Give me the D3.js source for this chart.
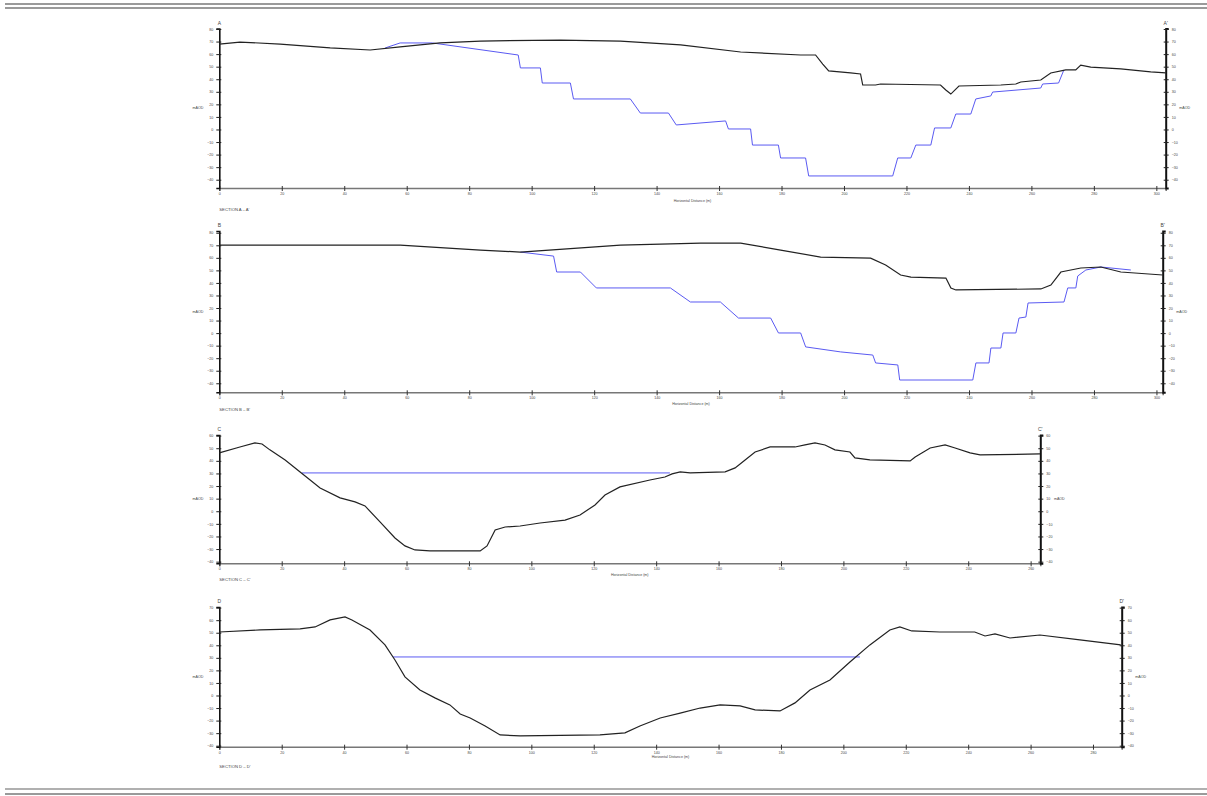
<!DOCTYPE html>
<html>
<head>
<meta charset="utf-8">
<script src="https://cdn.jsdelivr.net/npm/d3@7"></script>
<style>
  body { margin: 0; background: #fff; }
  svg { display: block; font-family: "Liberation Sans", Arial, sans-serif; }
  .tick text { font-size: 3.6px; fill: #444; }
  .lbl { font-size: 3.6px; fill: #444; }
</style>
</head>
<body>
<div class="chart"></div>
<script>
// DATA ------------------------------------
// distance (m) / elevation (mAOD) pairs read off the sections
const groundA = [[0,68],[6.6,69.6],[19.5,68],[35.5,64.9],[48.3,63.3],[57.9,65.7],[70.7,68.9],[83.6,70.4],[109.2,71.2],[128.4,70.4],[147.7,67.3],[166.9,61.7],[186.1,59.3],[190.9,59.3],[193.2,52.1],[195.1,46.6],[202.1,45],[205.3,44.2],[206,35.4],[210.1,35.4],[211.7,36.2],[230.9,35.4],[232.6,31.4],[234.2,28.2],[236.8,34.6],[250.2,35.4],[255,36.2],[256.6,37.8],[263,39.4],[266.2,45],[271,47.4],[274.2,47.4],[275.8,51.3],[279,49.7],[288.6,48.2],[298.2,45.8],[303,45]];
const designA = [[53.1,64.9],[57.9,68.9],[68.2,68.9],[95.7,59.3],[96.4,49],[102.8,49],[103.4,37],[112.4,37],[113.4,24.3],[131.6,24.3],[134.8,13.1],[143.8,13.1],[146.3,3.6],[162.1,6.8],[163,0.4],[170.1,0.4],[170.7,-12.4],[179,-12.4],[179.7,-22.7],[187.7,-22.7],[188.7,-37],[215.6,-37],[217.2,-22.7],[221.4,-22.7],[223,-12.4],[227.8,-12.4],[229,1.2],[234.2,1.2],[235.8,12.3],[240.6,12.3],[242.2,24.3],[247,26.7],[247.6,29.8],[263,33],[263.6,36.2],[268.7,37],[270.4,47.4]];

const groundB = [[0,70.2],[57.9,70.2],[83.6,66.2],[96.4,64.6],[128.4,70.2],[154.1,71.8],[166.9,71.8],[179.7,66.2],[192.5,60.6],[208.5,59.8],[213.3,54.3],[218.1,46.3],[221.4,44.7],[232.6,43.9],[234.2,36],[235.8,34.4],[263,35.2],[266.2,38.3],[269.4,48.7],[275.8,51.9],[282.2,52.7],[288.6,48.7],[302,46.3]];
const designB = [[96.4,64.6],[107,61.4],[108,48.7],[115.6,48.7],[120.7,36],[144.4,36],[150.8,24.8],[160.4,24.8],[166.2,12],[176.5,12],[179,0.1],[186.1,0.1],[187.7,-11],[198.9,-15],[209.2,-17.5],[210.1,-23.8],[217.2,-25.4],[217.8,-37.4],[241.2,-37.4],[242.2,-23.8],[246.4,-23.8],[247,-11.9],[250.2,-11.9],[250.9,0.1],[255,0.1],[256,12],[258.2,12.8],[258.9,24],[270.4,24.8],[271.6,36],[274.2,36],[274.8,45.5],[277.4,50.3],[282.2,52.7],[291.8,50.3]];

const groundC = [[0,46.3],[6.6,51],[11.4,54.2],[13.7,53.4],[16.2,48.7],[21.1,40.7],[25.9,31.2],[32.3,18.5],[38.7,10.6],[43.5,7.4],[46.7,4.2],[51.5,-8.5],[56.3,-21.2],[59.5,-27.5],[62.7,-30.7],[67.5,-31.5],[83.6,-31.5],[85.8,-27.5],[88.4,-14.8],[91.6,-12.5],[96.4,-11.7],[102.8,-9.3],[110.8,-7],[115.6,-3],[120.4,5],[123.6,12.9],[128.4,19.3],[138,24.8],[142.8,27.2],[145.1,29.6],[147.7,31.2],[150.9,30.4],[162.1,31.2],[165.3,34.4],[168.5,40.7],[171.7,47],[176.5,51],[184.5,51],[187.7,52.6],[190.9,54.2],[194.1,52.6],[197.3,48.7],[202.1,47],[203.7,42.3],[208.5,40.7],[221.4,39.9],[223,43.1],[227.8,50.2],[232.6,52.6],[235.8,50.2],[240.6,46.3],[243.8,44.7],[263,45.5]];
const designC = [[26.5,30.4],[144.4,30.4]];

const groundD = [[0,50.6],[13.1,52.2],[25.9,53],[30.7,54.6],[35.5,60.2],[40.3,62.6],[42.5,60.2],[48.3,52.2],[53.1,40.3],[56.3,28.3],[59.5,14.8],[64.3,4.4],[69.1,-1.9],[73.9,-7.5],[77.2,-14.7],[80.4,-17.9],[85.2,-24.3],[90,-31.4],[96.4,-32.2],[122,-31.4],[130,-29.8],[134.8,-24.3],[141.3,-17.9],[147.7,-14],[154.1,-10],[160.5,-7.5],[166.9,-8.3],[171.7,-11.5],[179.7,-12.3],[184.5,-5.9],[189.3,4.4],[195.7,12.4],[202.1,26.7],[208.5,40.3],[214.9,52.2],[218.1,54.6],[221.9,51.4],[230.9,50.6],[242.1,50.6],[245.4,47.4],[248.6,49],[253.4,45.8],[263,48.2],[275.8,44.3],[288.9,40.3]];
const designD = [[55.7,30.7],[205.3,30.7]];

const yTicksA = d3.range(80, -41, -10);
const yTicksB = d3.range(80, -41, -10);
const yTicksC = d3.range(60, -41, -10);
const yTicksD = d3.range(70, -41, -10);
const xTicksA = d3.range(0, 301, 20);
const xTicksB = d3.range(0, 301, 20);
const xTicksC = d3.range(0, 261, 20);
const xTicksD = d3.range(0, 281, 20);

// CHART INIT ------------------------------
const W = 1207, H = 796;
const svg = d3.select(".chart")
    .append("svg")
    .attr("width", W)
    .attr("height", H);

// page frame lines
[[4, "#9a9a9a"], [8, "#9a9a9a"], [789, "#b0b0b0"], [794, "#9a9a9a"]].forEach(([y, c]) => {
  svg.append("line")
    .attr("x1", 5).attr("x2", W)
    .attr("y1", y).attr("y2", y)
    .attr("stroke", c).attr("stroke-width", 2);
});

const sections = [
  {name: "A", top: 28.5, bottom: 188, right: 1165.7, xMax: 303, yDom: [-46.6, 80.4],
   yTicks: yTicksA, xTicks: xTicksA, ground: groundA, design: designA, secY: 211, hdY: 202},
  {name: "B", top: 231, bottom: 392.3, right: 1162.7, xMax: 302, yDom: [-47.2, 81.4],
   yTicks: yTicksB, xTicks: xTicksB, ground: groundB, design: designB, secY: 411, hdY: 405},
  {name: "C", top: 435, bottom: 563.3, right: 1040.3, xMax: 263.1, yDom: [-41.3, 60.5],
   yTicks: yTicksC, xTicks: xTicksC, ground: groundC, design: designC, secY: 581, hdY: 576},
  {name: "D", top: 607, bottom: 746.7, right: 1121.7, xMax: 289.2, yDom: [-40.8, 70.5],
   yTicks: yTicksD, xTicks: xTicksD, ground: groundD, design: designD, secY: 768, hdY: 758}
];

const left = 219.3;

sections.forEach(s => drawSection(s));

function drawSection(s) {
  const g = svg.append("g");
  const xScale = d3.scaleLinear().domain([0, s.xMax]).range([left, s.right]);
  const yScale = d3.scaleLinear().domain(s.yDom).range([s.bottom, s.top]);

  const line = d3.line()
      .x(d => xScale(d[0]))
      .y(d => yScale(d[1]));

  // x axis
  const xAxis = d3.axisBottom(xScale).tickValues(s.xTicks).tickSize(3).tickPadding(1.5);
  g.append("g")
    .attr("class", "axis x-axis")
    .attr("transform", `translate(0, ${s.bottom})`)
    .call(xAxis)
    .call(a => a.select(".domain").attr("stroke", "#777").attr("stroke-width", 1.6))
    .call(a => a.selectAll(".tick line").attr("stroke", "#333").attr("y1", -2));

  // left axis
  const yAxisL = d3.axisLeft(yScale).tickValues(s.yTicks).tickSize(3).tickPadding(3);
  g.append("g")
    .attr("class", "axis y-axis")
    .attr("transform", `translate(${left}, 0)`)
    .call(yAxisL)
    .call(a => a.select(".domain").attr("stroke", "#111").attr("stroke-width", 1.6))
    .call(a => a.selectAll(".tick line").attr("stroke", "#222").attr("x1", 2));

  // right axis
  const yAxisR = d3.axisRight(yScale).tickValues(s.yTicks).tickSize(3).tickPadding(3);
  g.append("g")
    .attr("class", "axis y-axis-r")
    .attr("transform", `translate(${s.right}, 0)`)
    .call(yAxisR)
    .call(a => a.select(".domain").attr("stroke", "#111").attr("stroke-width", 2))
    .call(a => a.selectAll(".tick line").attr("stroke", "#222").attr("x1", -2));

  // profiles
  g.append("path")
    .datum(s.design)
    .attr("fill", "none")
    .attr("stroke", "#5a5af2")
    .attr("stroke-width", 1)
    .attr("d", line);
  g.append("path")
    .datum(s.ground)
    .attr("fill", "none")
    .attr("stroke", "#222")
    .attr("stroke-width", 1.2)
    .attr("d", line);

  // labels
  const midY = (s.top + s.bottom) / 2;
  g.append("text").attr("class", "lbl")
    .attr("x", left).attr("y", s.top - 4)
    .attr("text-anchor", "middle").style("font-size", "5px")
    .text(s.name);
  g.append("text").attr("class", "lbl")
    .attr("x", s.right).attr("y", s.top - 4)
    .attr("text-anchor", "middle").style("font-size", "5px")
    .text(s.name + "'");
  g.append("text").attr("class", "lbl")
    .attr("x", 198).attr("y", midY + 1)
    .attr("text-anchor", "middle")
    .text("mAOD");
  g.append("text").attr("class", "lbl")
    .attr("x", s.right + 19).attr("y", midY + 1)
    .attr("text-anchor", "middle")
    .text("mAOD");
  g.append("text").attr("class", "lbl")
    .attr("x", (left + s.right) / 2).attr("y", s.hdY)
    .attr("text-anchor", "middle")
    .text("Horizontal Distance (m)");
  g.append("text").attr("class", "lbl")
    .attr("x", left).attr("y", s.secY)
    .style("font-size", "4.2px")
    .text("SECTION " + s.name + " \u2013 " + s.name + "'");
}
</script>
</body>
</html>
